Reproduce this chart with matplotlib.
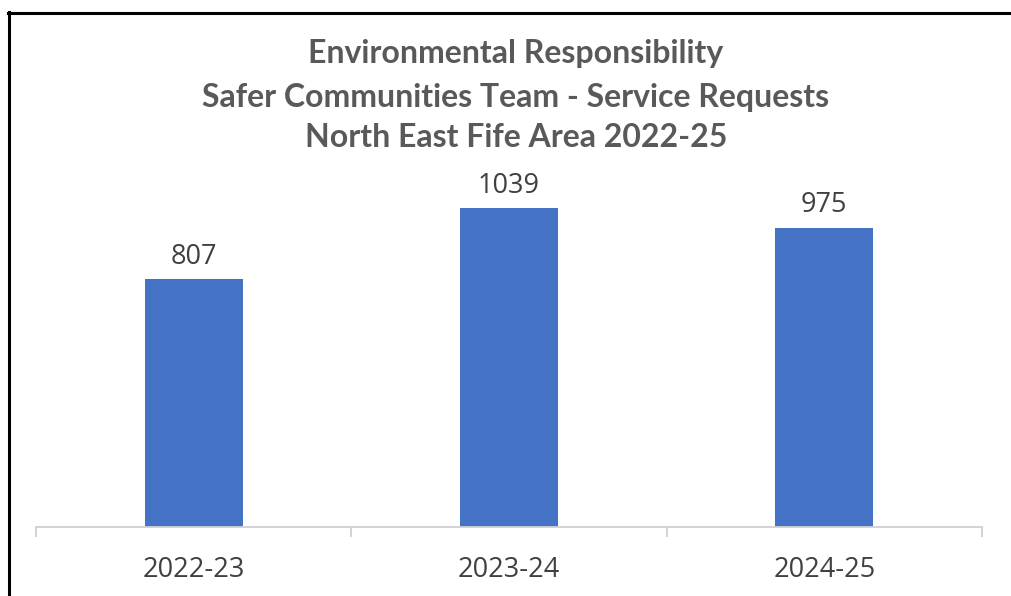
import matplotlib
matplotlib.use("Agg")
import matplotlib.pyplot as plt
from matplotlib.lines import Line2D

categories = ["2022-23", "2023-24", "2024-25"]
values = [807, 1039, 975]
title_lines = ["Environmental Responsibility",
               "Safer Communities Team - Service Requests",
               "North East Fife Area 2022-25"]

W, H = 1011, 596
fig = plt.figure(figsize=(W/100, H/100), dpi=100)
fig.patch.set_facecolor("white")

# axes: x from 36 to 982 px, baseline at y=527, top at y=150
ax_left, ax_right = 36/W, 982/W
ax_bottom, ax_top = 1 - 527/H, 1 - 150/H
ax = fig.add_axes([ax_left, ax_bottom, ax_right-ax_left, ax_top-ax_bottom])
ymax = 377/0.307
ax.set_ylim(0, ymax)
ax.set_xlim(-0.5, 2.5)
bars = ax.bar(range(3), values, width=0.31, color="#4472C4", zorder=2)
for i, v in enumerate(values):
    ax.annotate(str(v), (i, v), xytext=(0, 16), textcoords="offset points",
                ha="center", va="center", fontsize=19.5,
                color="#404040", family="Open Sans")
for s in ["top", "left", "right"]:
    ax.spines[s].set_visible(False)
ax.spines["bottom"].set_color("#d0d0d0")
ax.spines["bottom"].set_linewidth(1.3)
ax.set_yticks([])
ax.set_xticks([-0.5, 0.5, 1.5, 2.5], minor=True)
ax.set_xticks(range(3))
ax.set_xticklabels(categories, fontsize=19.5, color="#404040", family="Open Sans")
ax.tick_params(axis="x", which="major", length=0, pad=21)
ax.tick_params(axis="x", which="minor", length=7, width=1.3, color="#d0d0d0")

ys = [54, 97, 138]
for t, y in zip(title_lines, ys):
    fig.text(516/W, 1 - y/H, t, ha="center", va="center", fontsize=23,
             fontweight="bold", color="#595959", family="Lato")

# frame lines (left and top)
fig.add_artist(Line2D([8.5/W, 8.5/W], [0, 1 - 12/H], color="black", lw=2.2, transform=fig.transFigure))
fig.add_artist(Line2D([7.5/W, 1], [1 - 12.5/H, 1 - 12.5/H], color="black", lw=2.2, transform=fig.transFigure))

fig.savefig("out.png", dpi=100)
